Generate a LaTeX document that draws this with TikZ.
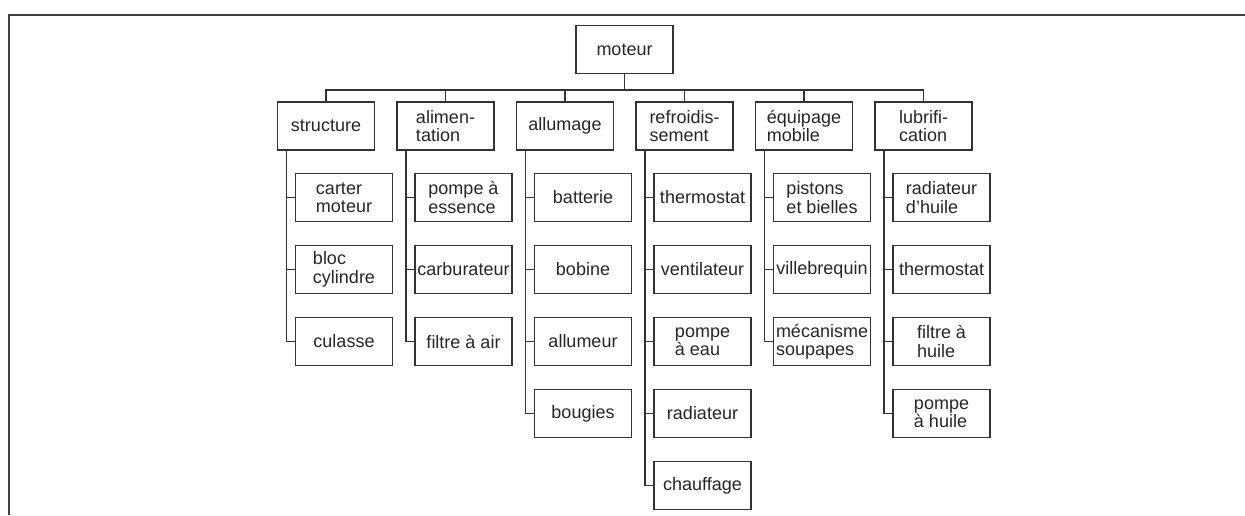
\documentclass[tikz,border=0pt]{standalone}
\usepackage{fontspec}
\setmainfont{Liberation Sans}
\begin{document}
\begin{tikzpicture}[x=0.5pt,y=-0.5pt,
  box/.style={draw=black!80,line width=0.85pt,minimum width=48.5pt,minimum height=24pt,
    inner sep=1pt,align=left,font=\fontsize{9}{9.2}\selectfont,text=black!85},
  link/.style={draw=black!80,line width=0.7pt},
  frame/.style={draw=black!75,line width=1.1pt}]
\useasboundingbox (0,0) rectangle (1245,515);
% outer frame (top and left rules)
\draw[frame] (1245,15) -- (9,15) -- (9,515);

% root
\node[box] (m) at (624.5,49.5) {moteur};
\coordinate (bar) at (624.5,90);

% main groups
\node[box] (s)  at (326,126)   {structure};
\node[box] (a)  at (445.5,126) {alimen-\\tation};
\node[box] (al) at (565,126)   {allumage};
\node[box] (r)  at (684.5,126) {refroidis-\\sement};
\node[box] (e)  at (804,126)   {équipage\\mobile};
\node[box] (l)  at (923.5,126) {lubrifi-\\cation};

% structure
\node[box] (s1) at (344,197.5) {carter\\moteur};
\node[box] (s2) at (344,269.5) {bloc\\cylindre};
\node[box] (s3) at (344,341.5) {culasse};
% alimentation
\node[box] (a1) at (463.5,197.5) {pompe à\\essence};
\node[box] (a2) at (463.5,269.5) {carburateur};
\node[box] (a3) at (463.5,341.5) {filtre à air};
% allumage
\node[box] (al1) at (583,197.5) {batterie};
\node[box] (al2) at (583,269.5) {bobine};
\node[box] (al3) at (583,341.5) {allumeur};
\node[box] (al4) at (583,413.5) {bougies};
% refroidissement
\node[box] (r1) at (702.5,197.5) {thermostat};
\node[box] (r2) at (702.5,269.5) {ventilateur};
\node[box] (r3) at (702.5,341.5) {pompe\\à eau};
\node[box] (r4) at (702.5,413.5) {radiateur};
\node[box] (r5) at (702.5,485.5) {chauffage};
% equipage mobile
\node[box] (e1) at (822,197.5) {pistons\\et bielles};
\node[box] (e2) at (822,269.5) {villebrequin};
\node[box] (e3) at (822,341.5) {mécanisme\\soupapes};
% lubrification
\node[box] (l1) at (941.5,197.5) {radiateur\\d'huile};
\node[box] (l2) at (941.5,269.5) {thermostat};
\node[box] (l3) at (941.5,341.5) {filtre à\\huile};
\node[box] (l4) at (941.5,413.5) {pompe\\à huile};

% root to groups
\draw[link] (m.south) -- (bar);
\foreach \p in {s,a,al,r,e,l} \draw[link] (\p.north) |- (bar);

% groups to their parts
\foreach \p/\cs in {s/{s1,s2,s3},a/{a1,a2,a3},al/{al1,al2,al3,al4},
                   r/{r1,r2,r3,r4,r5},e/{e1,e2,e3},l/{l1,l2,l3,l4}}
  \foreach \c in \cs \draw[link] ([xshift=5pt]\p.south west) |- (\c.west);
\end{tikzpicture}
\end{document}
